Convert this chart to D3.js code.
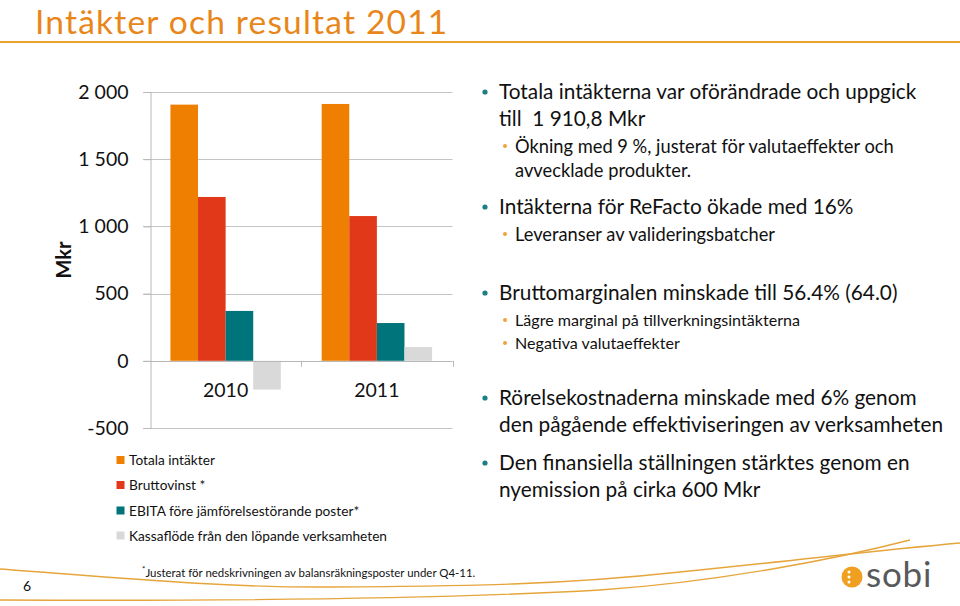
<!DOCTYPE html>
<html><head><meta charset="utf-8">
<script src="https://cdn.jsdelivr.net/npm/d3@7"></script>
<style>
body{margin:0;background:#fff;}
svg{display:block;}
text{font-family:Lato,"Open Sans",sans-serif;white-space:pre;}
</style></head><body>
<svg id="c" width="960" height="606"></svg>
<script>
// ---- data ----
const years = ["2010", "2011"];
const seriesNames = ["Totala intäkter", "Bruttovinst *", "EBITA före jämförelsestörande poster*", "Kassaflöde från den löpande verksamheten"];
const totalaIntakter = [1906, 1911];
const bruttovinst = [1219, 1077];
const ebita = [371, 281];
const kassaflode = [-214, 103];
const yTicks = [-500, 0, 500, 1000, 1500, 2000];
const colors = ["#EE7F00", "#E2381A", "#00747B", "#D9D9D9"];
const title = "Intäkter och resultat 2011";
const yLabel = "Mkr";
const bullets = [
  {lvl:0, lines:["Totala intäkterna var oförändrade och uppgick", "till  1 910,8 Mkr"]},
  {lvl:1, lines:["Ökning med 9 %, justerat för valutaeffekter och", "avvecklade produkter."]},
  {lvl:0, lines:["Intäkterna för ReFacto ökade med 16%"]},
  {lvl:1, lines:["Leveranser av valideringsbatcher"]},
  {lvl:0, lines:["Bruttomarginalen minskade till 56.4% (64.0)"]},
  {lvl:2, lines:["Lägre marginal på tillverkningsintäkterna"]},
  {lvl:2, lines:["Negativa valutaeffekter"]},
  {lvl:0, lines:["Rörelsekostnaderna minskade med 6% genom", "den pågående effektiviseringen av verksamheten"]},
  {lvl:0, lines:["Den finansiella ställningen stärktes genom en", "nyemission på cirka 600 Mkr"]}
];
const bulletY = [92, 146, 207, 234, 293, 320, 343, 398, 463];
const footnote = "Justerat för nedskrivningen av balansräkningsposter under Q4-11.";
const pageNo = "6";

const values = [totalaIntakter, bruttovinst, ebita, kassaflode];
const svg = d3.select("#c");

// ---- title ----
svg.append("text").attr("x", 35).attr("y", 33.5).attr("font-size", 33.5).attr("letter-spacing", 1.2).attr("fill", "#E8861A").text(title);
svg.append("line").attr("x1", 0).attr("x2", 960).attr("y1", 42).attr("y2", 42).attr("stroke", "#EDA22E").attr("stroke-width", 2.2);

// ---- chart ----
const y = d3.scaleLinear().domain([-500, 2000]).range([428, 92]);
const x0 = d3.scaleBand().domain(years).range([150, 452.5]);
const x1 = d3.scaleBand().domain(d3.range(seriesNames.length)).range([0, x0.bandwidth()]).paddingOuter(0.74);
const loc = d3.formatLocale({decimal: ",", thousands: " ", grouping: [3], currency: ["", " kr"], minus: "-"});
const fmt = loc.format(",d");

const g = svg.append("g");
// gridlines
g.selectAll(".grid").data(yTicks.filter(d => d !== 0)).join("line")
  .attr("x1", 143).attr("x2", 452.5).attr("y1", d => Math.round(y(d)) + 0.5).attr("y2", d => Math.round(y(d)) + 0.5)
  .attr("stroke", "#C4C4C4").attr("stroke-width", 1);
// y axis
g.append("g").attr("transform", "translate(150.5,0)")
  .call(d3.axisLeft(y).tickValues(yTicks).tickSize(7).tickFormat(fmt))
  .call(s => s.select(".domain").attr("stroke", "#B8B8B8"))
  .call(s => s.selectAll(".tick line").attr("stroke", "#B8B8B8"))
  .call(s => s.selectAll(".tick text").attr("x", -22).attr("font-size", 19.5).attr("fill", "#111").attr("font-family", "Lato"));

// bars
years.forEach((yr, i) => {
  values.forEach((arr, k) => {
    const v = arr[i];
    g.append("rect")
      .attr("x", x0(yr) + x1(k)).attr("width", x1.bandwidth())
      .attr("y", y(Math.max(0, v))).attr("height", Math.abs(y(v) - y(0)))
      .attr("fill", colors[k]);
  });
});
// zero axis
g.append("line").attr("x1", 143).attr("x2", 452.5).attr("y1", Math.round(y(0)) + 0.5).attr("y2", Math.round(y(0)) + 0.5).attr("stroke", "#B8B8B8");
[x0("2011"), 452.5].forEach(xx => g.append("line").attr("x1", Math.round(xx) + 0.5).attr("x2", Math.round(xx) + 0.5)
  .attr("y1", y(0)).attr("y2", y(0) + 6).attr("stroke", "#B8B8B8"));
// category labels
g.selectAll(".cat").data(years).join("text")
  .attr("x", d => x0(d) + x0.bandwidth() / 2).attr("y", 397).attr("text-anchor", "middle")
  .attr("font-size", 19.5).attr("fill", "#111").text(d => d);
// y label
svg.append("text").attr("transform", "translate(71,260) rotate(-90)").attr("text-anchor", "middle")
  .attr("font-size", 20).attr("font-weight", "bold").attr("fill", "#111").text(yLabel);

// legend
const legY = [460, 485, 510.5, 535.5];
seriesNames.forEach((n, k) => {
  svg.append("rect").attr("x", 116.5).attr("y", legY[k] - 4).attr("width", 8).attr("height", 8).attr("fill", colors[k]);
  svg.append("text").attr("x", 129).attr("y", legY[k] + 5).attr("font-size", 13.7).attr("fill", "#111").text(n);
});

// ---- bullets ----
const bcfg = [
  {dot: 485, tx: 499, fs: 20.8, lh: 27, r: 2.6, col: "#1B7F83"},
  {dot: 505, tx: 515, fs: 18.3, lh: 24, r: 2, col: "#F0A23C"},
  {dot: 505, tx: 515, fs: 16.1, lh: 22, r: 2, col: "#F0A23C"}
];
bullets.forEach((b, i) => {
  const c = bcfg[b.lvl];
  svg.append("circle").attr("cx", c.dot).attr("cy", bulletY[i]).attr("r", c.r).attr("fill", c.col);
  b.lines.forEach((l, j) => {
    svg.append("text").attr("x", c.tx).attr("y", bulletY[i] + j * c.lh + c.fs * 0.36)
      .attr("font-size", c.fs).attr("fill", "#111").text(l);
  });
});

// ---- footer ----
const sw = svg.append("g").attr("fill", "none").attr("stroke", "#E6A53C").attr("stroke-width", 1.4);
sw.append("path").attr("d", "M0,569 C120,578 230,588 330,587 C470,586 560,585 680,572 C800,560 880,550 960,543");
sw.append("path").attr("d", "M0,600 C200,601 420,600 600,590 C720,582 840,558 910,540");
svg.append("text").attr("x", 23).attr("y", 591).attr("font-size", 14).attr("fill", "#111").text(pageNo);
const fn = svg.append("text").attr("x", 142).attr("y", 577).attr("font-size", 11.45).attr("fill", "#111");
fn.append("tspan").attr("font-size", 8).attr("dy", -5).text("*");
fn.append("tspan").attr("dy", 5).text(footnote);

// logo
svg.append("circle").attr("cx", 852).attr("cy", 577).attr("r", 10.5).attr("fill", "#F0A020");
[-5, 0, 5].forEach(d => svg.append("circle").attr("cx", 849).attr("cy", 577 + d).attr("r", 1.5).attr("fill", "#fff"));
svg.append("text").attr("x", 866).attr("y", 587).attr("font-size", 35).attr("letter-spacing", 0.8).attr("fill", "#58595B").attr("font-family", "Lato").text("sobi");
</script>
</body></html>
